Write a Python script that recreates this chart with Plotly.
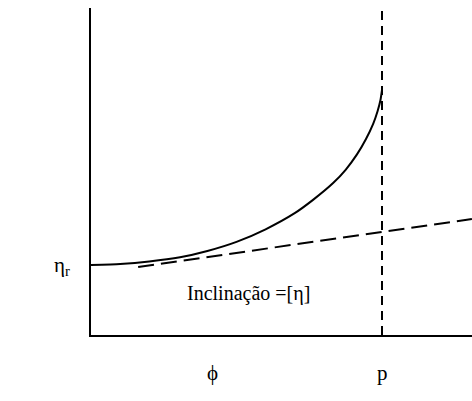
import plotly.graph_objects as go

# Relative viscosity vs. volume fraction (phi normalised to the packing limit p = 1)
phi = [0.0, 0.10, 0.20, 0.306, 0.40, 0.50, 0.60, 0.70, 0.763, 0.832,
       0.875, 0.914, 0.945, 0.970, 0.985, 0.995, 1.0]
eta_r = [1.00, 1.015, 1.05, 1.11, 1.20, 1.33, 1.51, 1.74, 1.93, 2.17,
         2.36, 2.58, 2.80, 3.02, 3.20, 3.36, 3.50]

# Initial-slope line, slope = intrinsic viscosity [eta]
slope_phi = [0.162, 1.309]
slope_eta = [0.971, 1.657]

# Maximum packing fraction marker
p_phi = [1.0, 1.0]
p_eta = [0.0, 4.671]

x_max = 1.3093
y_max = 4.671

serif = "Liberation Serif, Times New Roman, serif"

fig = go.Figure()
fig.add_trace(go.Scatter(x=phi, y=eta_r, mode="lines",
                         line=dict(color="black", width=2, shape="spline", smoothing=0.5),
                         hoverinfo="skip"))
fig.add_trace(go.Scatter(x=slope_phi, y=slope_eta, mode="lines",
                         line=dict(color="black", width=2, dash="16px,7px"),
                         hoverinfo="skip"))
fig.add_trace(go.Scatter(x=p_phi, y=p_eta, mode="lines",
                         line=dict(color="black", width=2, dash="9px,6px"),
                         hoverinfo="skip"))

fig.add_annotation(x=0.54, y=0.6, xref="x", yref="y", text="Inclinação =[η]",
                   showarrow=False, font=dict(family=serif, size=20, color="black"))
fig.add_annotation(x=0.419, y=-0.16, xref="x", yref="paper", text="ϕ",
                   showarrow=False, font=dict(family=serif, size=21, color="black"))
fig.add_annotation(x=1.0, y=-0.16, xref="x", yref="paper", text="p",
                   showarrow=False, font=dict(family=serif, size=21, color="black"))
fig.add_annotation(x=-0.102, y=0.165, xref="paper", yref="paper", text="η<sub>r</sub>",
                   showarrow=False, font=dict(family=serif, size=21, color="black"))

fig.update_layout(
    width=472, height=401,
    margin=dict(l=91, r=0, t=8, b=66),
    paper_bgcolor="white", plot_bgcolor="white",
    showlegend=False,
    xaxis=dict(range=[0, x_max], showgrid=False, zeroline=False, showticklabels=False,
               ticks="", showline=True, linecolor="black", linewidth=2),
    yaxis=dict(range=[0, y_max], showgrid=False, zeroline=False, showticklabels=False,
               ticks="", showline=True, linecolor="black", linewidth=2),
)

fig.write_html("out.html")
